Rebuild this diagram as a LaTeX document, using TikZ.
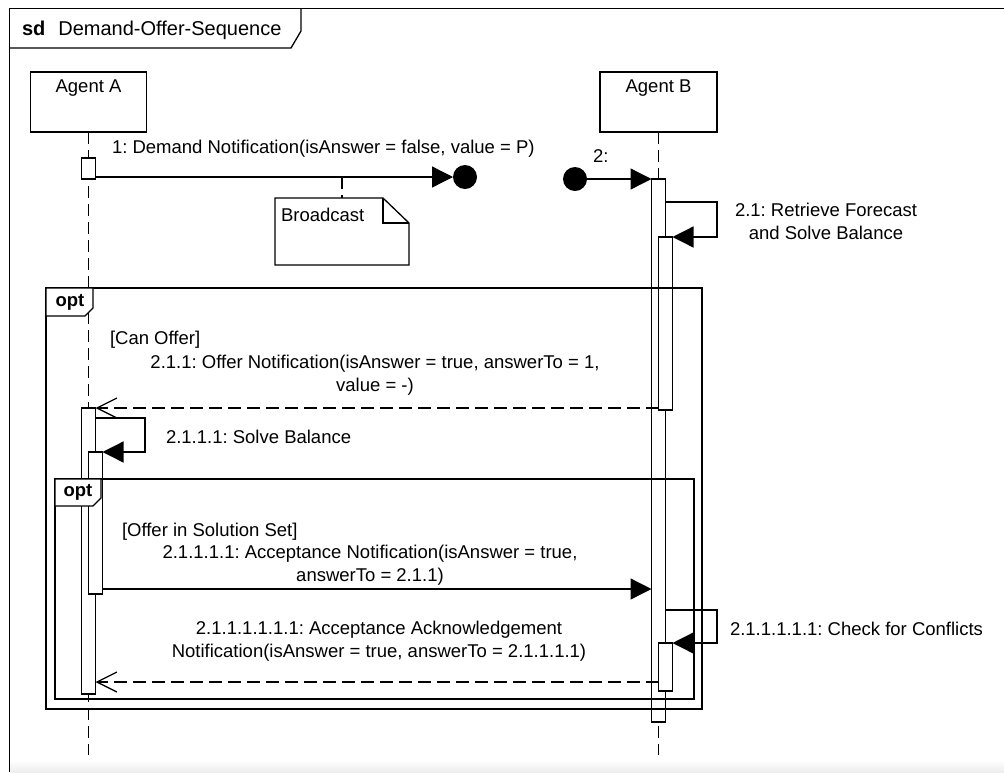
\documentclass[tikz,border=0pt]{standalone}
\usepackage{fontspec}
\setmainfont{Liberation Sans}
\usetikzlibrary{arrows.meta,fit,calc}
\begin{document}
\frenchspacing
\fontsize{18.5}{23}\selectfont
\begin{tikzpicture}[x=1pt,y=-1pt,line width=1.3pt,
  every node/.style={inner sep=0pt,outer sep=0pt},
  objbox/.style={draw,fill=white,minimum height=60pt},
  actbox/.style={draw,fill=white},
  framebox/.style={draw},
  tab/.style={draw,fill=white},
  lifeline/.style={dash pattern=on 12pt off 6pt},
  msg/.style={-{Triangle[length=21pt,width=21pt]}},
  reply/.style={dash pattern=on 13pt off 6pt,-{Straight Barb[length=20pt,width=20pt]}},
  blob/.style={circle,fill=black,minimum size=24pt},
  oplabel/.style={font=\bfseries}]
\useasboundingbox (0,0) rectangle (1004,772);

% faint strip along the lower edge
\shade[top color=white,bottom color=black!7] (10.5,760) rectangle (1004,772);

% diagram frame and its heading
\coordinate (ftl) at (9.5,8.5);
\draw[line width=1.5pt] (9.5,772) -- (ftl) -- (1004,8.5);
\draw (9.5,48) -- (291,48) -- (301,31) -- (301,8.5);
\node[anchor=base west,font=\fontsize{20}{24}\selectfont] (title) at (22,35.5) {\textbf{sd}\hspace{13pt}Demand-Offer-Sequence};

% participants
\node[objbox,minimum width=116pt] (A) at (88.5,102) {};
\node[objbox,minimum width=117pt] (B) at (658.5,102) {};
\node[anchor=base] (Atxt) at ($(A.north)+(0,20.5)$) {Agent A};
\node[anchor=base] (Btxt) at ($(B.north)+(0,20.5)$) {Agent B};

% message rows
\coordinate (r1) at (0,177);
\coordinate (r3) at (0,202);
\coordinate (r4) at (0,408);
\coordinate (r5) at (0,418);
\coordinate (r6) at (0,589);
\coordinate (r7) at (0,610);
\coordinate (r8) at (0,682);
\coordinate (rend) at (0,755);

% lifelines
\draw[lifeline] (A.south) -- (A.south |- rend);
\draw[lifeline] (B.south) -- (B.south |- rend);

% activations
\node[actbox,fit={(81.5,158) (95.5,179)}] (a0) {};
\node[actbox,fit={(81.5,408) (95.5,694)}] (a1) {};
\node[actbox,fit={(88.5,452) (102.5,594)}] (a2) {};
\node[actbox,fit={(651.5,179) (665.5,722)}] (b0) {};
\node[actbox,fit={(658.5,237) (672.5,410)}] (b1) {};
\node[actbox,fit={(658.5,643) (672.5,691)}] (b2) {};

% broadcast note
\node[minimum width=134pt,minimum height=67pt] (note) at (342,231.5) {};
\draw[lifeline] (note.north |- r1) -- (note.north);
\draw[fill=white] (note.north west) -- ($(note.north east)+(-26,0)$)
  -- ($(note.north east)+(0,25)$) -- (note.south east) -- (note.south west) -- cycle;
\draw ($(note.north east)+(-26,0)$) |- ($(note.north east)+(0,25)$);
\node[anchor=base west] (notetxt) at (281,221.5) {Broadcast};

% combined fragments
\node[framebox,fit={(46,288) (702,709)}] (opt1) {};
\draw[tab] (opt1.north west) -- ++(47,0) -- ++(0,20) -- ++(-8,8) -- ++(-39,0) -- cycle;
\node[oplabel] (opt1lbl) at ($(opt1.north west)+(24,14)$) {opt};
\node[framebox,fit={(55,479) (694,699)}] (opt2) {};
\draw[tab] (opt2.north west) -- ++(46,0) -- ++(0,19) -- ++(-8,8) -- ++(-38,0) -- cycle;
\node[oplabel] (opt2lbl) at ($(opt2.north west)+(23,13)$) {opt};

% 1: lost message
\node[blob] (lost) at (465,177) {};
\draw[msg] (a0.east |- r1) -- (lost.west);
\node[anchor=base west] (m1) at (112,153.5) {1: Demand Notification(isAnswer = false, value = P)};

% 2: found message
\node[blob] (found) at (575,179) {};
\draw[msg] (found) -- (b0.north west);
\node[anchor=base west] (m2) at (593,162.5) {2:};

% 2.1 self call
\draw[msg] (b0.east |- r3) -| ($(b1.north east)+(44.5,0)$) -- (b1.north east);
\node[anchor=north,align=center] (m21) at (826,202.8) {2.1: Retrieve Forecast\\and Solve Balance};

% 2.1.1 reply
\node[anchor=base west] (g1) at (110,344.5) {[Can Offer]};
\draw[reply] (b1.west |- r4) -- (a1.north east);
\node[anchor=north,align=center] (m211) at (375,354.8) {2.1.1: Offer Notification(isAnswer = true, answerTo = 1,\\value = -)};

% 2.1.1.1 self call
\draw[msg] (a1.east |- r5) -| ($(a2.north east)+(42.5,0)$) -- (a2.north east);
\node[anchor=base west] (m2111) at (166,443.5) {2.1.1.1: Solve Balance};

% 2.1.1.1.1 acceptance
\node[anchor=base west] (g2) at (122,536.5) {[Offer in Solution Set]};
\draw[msg] (a2.east |- r6) -- (b0.west |- r6);
\node[anchor=north,align=center] (m21111) at (370,544.8) {2.1.1.1.1: Acceptance Notification(isAnswer = true,\\answerTo = 2.1.1)};

% 2.1.1.1.1.1 self call
\draw[msg] (b0.east |- r7) -| ($(b2.north east)+(44.5,0)$) -- (b2.north east);
\node[anchor=base west] (m211111) at (730,635.5) {2.1.1.1.1.1: Check for Conflicts};

% 2.1.1.1.1.1.1 acknowledgement
\draw[reply] (b2.west |- r8) -- (a1.east |- r8);
\node[anchor=north,align=center] (m2111111) at (379,620.8) {2.1.1.1.1.1.1: Acceptance Acknowledgement\\Notification(isAnswer = true, answerTo = 2.1.1.1.1)};
\end{tikzpicture}
\end{document}
